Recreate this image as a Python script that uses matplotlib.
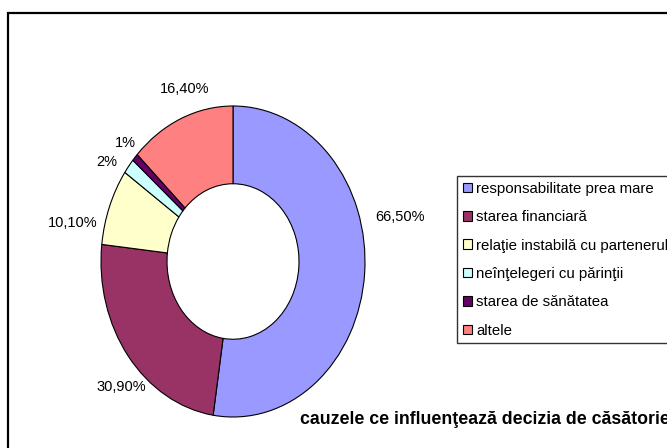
import numpy as np
import matplotlib.pyplot as plt
from matplotlib.patches import Rectangle

plt.rcParams['font.family'] = ['Liberation Sans', 'DejaVu Sans']

categories = ['responsabilitate prea mare', 'starea financiară',
              'relaţie instabilă cu partenerul', 'neînţelegeri cu părinţii',
              'starea de sănătatea', 'altele']
values = [66.5, 30.9, 10.1, 2, 1, 16.4]
value_labels = ['66,50%', '30,90%', '10,10%', '2%', '1%', '16,40%']
colors = ['#9999FF', '#993366', '#FFFFCC', '#CCFFFF', '#660066', '#FF8080']
title = 'cauzele ce influenţează decizia de căsătorie'

W, H = 667, 448
fig = plt.figure(figsize=(W / 100, H / 100), dpi=100)

# outer chart frame (runs off the right and bottom edges)
fig.patches.append(Rectangle((8 / W, -0.1), 1.2, (H - 13) / H + 0.1,
                             transform=fig.transFigure, fill=False,
                             edgecolor='black', linewidth=1.6))

# pie is drawn as an ellipse: axes box in pixels
ax = fig.add_axes([101 / W, (H - 417) / H, 264 / W, 311 / H])
wedges, _ = ax.pie(values, colors=colors, startangle=90, counterclock=False,
                   wedgeprops=dict(width=0.5, edgecolor='black', linewidth=0.8))
ax.set_aspect('auto')
ax.set_xlim(-1, 1)
ax.set_ylim(-1, 1)
ax.axis('off')

# label placement around each wedge (angle nudge in degrees, radius)
nudges = [17, 6, 9, 4, -1, -5]
radii = [1.30, 1.17, 1.24, 1.15, 1.12, 1.17]
for w, lab, dn, r in zip(wedges, value_labels, nudges, radii):
    mid = np.deg2rad((w.theta1 + w.theta2) / 2 + dn)
    ax.text(r * np.cos(mid), r * np.sin(mid), lab, ha='center', va='center',
            fontsize=10.5, clip_on=False)

leg = fig.legend(wedges, categories, loc='upper left',
                 bbox_to_anchor=(457 / W, (H - 176) / H),
                 fontsize=10.8, frameon=True, fancybox=False, edgecolor='black',
                 handlelength=0.6, handleheight=0.6, handletextpad=0.3,
                 labelspacing=0.96, borderpad=0.38, borderaxespad=0)
leg.get_frame().set_linewidth(1.0)

# the title runs past the right edge, as in the original chart
fig.text(300 / W, (H - 419) / H, title, fontsize=12.8, fontweight='bold',
         ha='left', va='center')

plt.savefig('out.png', dpi=100)
